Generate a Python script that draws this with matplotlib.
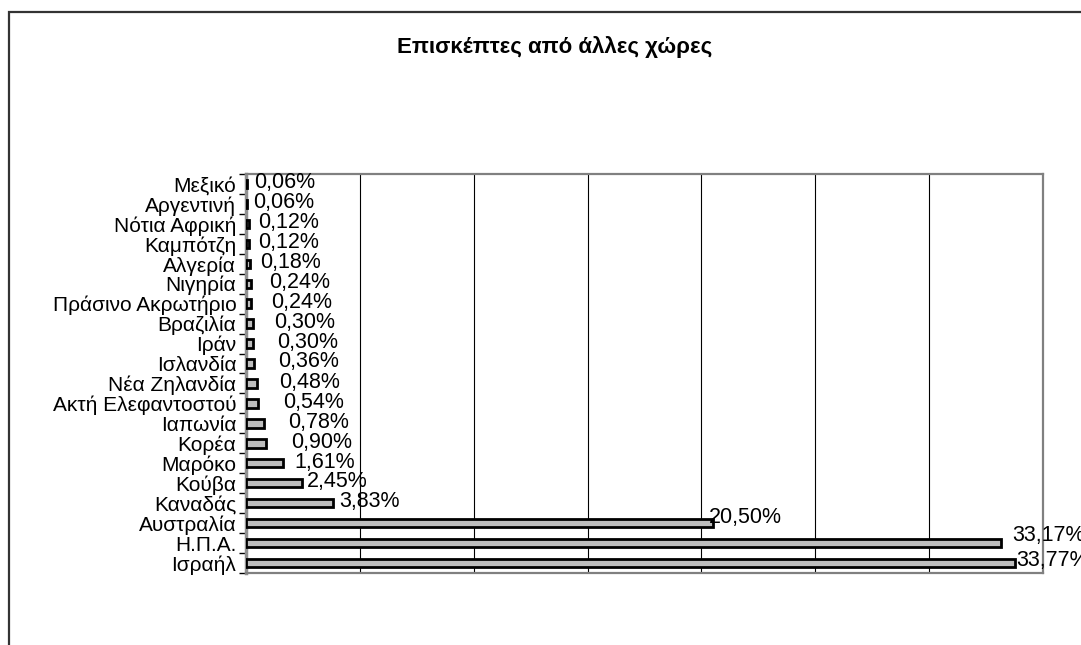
import matplotlib
matplotlib.use("Agg")
import matplotlib.pyplot as plt
from matplotlib.patches import Rectangle
from matplotlib.ticker import MultipleLocator, FixedLocator, NullFormatter

plt.rcParams['font.family'] = ['Liberation Sans', 'DejaVu Sans']

title = "Επισκέπτες από άλλες χώρες"
countries = ["Ισραήλ", "Η.Π.Α.", "Αυστραλία", "Καναδάς", "Κούβα", "Μαρόκο",
             "Κορέα", "Ιαπωνία", "Ακτή Ελεφαντοστού", "Νέα Ζηλανδία", "Ισλανδία",
             "Ιράν", "Βραζιλία", "Πράσινο Ακρωτήριο", "Νιγηρία", "Αλγερία",
             "Καμπότζη", "Νότια Αφρική", "Αργεντινή", "Μεξικό"]
values = [33.77, 33.17, 20.50, 3.83, 2.45, 1.61, 0.90, 0.78, 0.54, 0.48, 0.36,
          0.30, 0.30, 0.24, 0.24, 0.18, 0.12, 0.12, 0.06, 0.06]

# label offsets (pixels) from bar end, styling only
label_dx = [1, 11, -4, 6, 5, 12, 25, 24, 25, 22, 24, 24, 21, 20, 18, 10, 9, 9, 6, 7]
label_dy = [3, 8, 6, 2, 2, 1, 1, 1, 1, 1, 2, 1, 1, 1, 1, 1, 1, 1, 1, 1]

W, H = 1081, 645
fig = plt.figure(figsize=(W / 100, H / 100), dpi=100)

# outer frame
fig.patches.append(Rectangle((9 / W, -0.1), 1.2, 1 - 12 / H + 0.1, transform=fig.transFigure,
                             fill=False, edgecolor='#333333', linewidth=1.6))

ax = fig.add_axes([246 / W, 1 - 573 / H, (1043 - 246) / W, (573 - 174) / H])
y = list(range(len(countries)))
ax.barh(y, values, height=0.42, color='#bdbdbd', edgecolor='black', linewidth=2.0, zorder=3)

ax.set_xlim(0, 35)
ax.set_ylim(-0.5, len(countries) - 0.5)
ax.xaxis.set_major_locator(MultipleLocator(5))
ax.xaxis.set_major_formatter(NullFormatter())
ax.tick_params(axis='x', length=0)
ax.grid(axis='x', color='black', linewidth=0.8, zorder=1)

ax.set_yticks(y)
ax.set_yticklabels(countries, fontsize=15)
ax.tick_params(axis='y', which='major', length=0, pad=7)
ax.yaxis.set_minor_locator(FixedLocator([i - 0.5 for i in range(len(countries) + 1)]))
ax.tick_params(axis='y', which='minor', length=5, width=1, color='black')

for s in ['top', 'right', 'bottom']:
    ax.spines[s].set_color('#808080')
    ax.spines[s].set_linewidth(1.6)
ax.spines['left'].set_color('#909090')
ax.spines['left'].set_linewidth(2.5)

for yi, v, dx, dy in zip(y, values, label_dx, label_dy):
    txt = f"{v:.2f}".replace('.', ',') + "%"
    ax.annotate(txt, (v, yi), xytext=(dx * 0.72, dy * 0.72), textcoords='offset points',
                ha='left', va='center', fontsize=15.5, zorder=4, annotation_clip=False)

fig.text(555 / W, 1 - 47 / H, title, ha='center', va='center', fontsize=16, fontweight='bold')

fig.savefig("out.png", dpi=100)
